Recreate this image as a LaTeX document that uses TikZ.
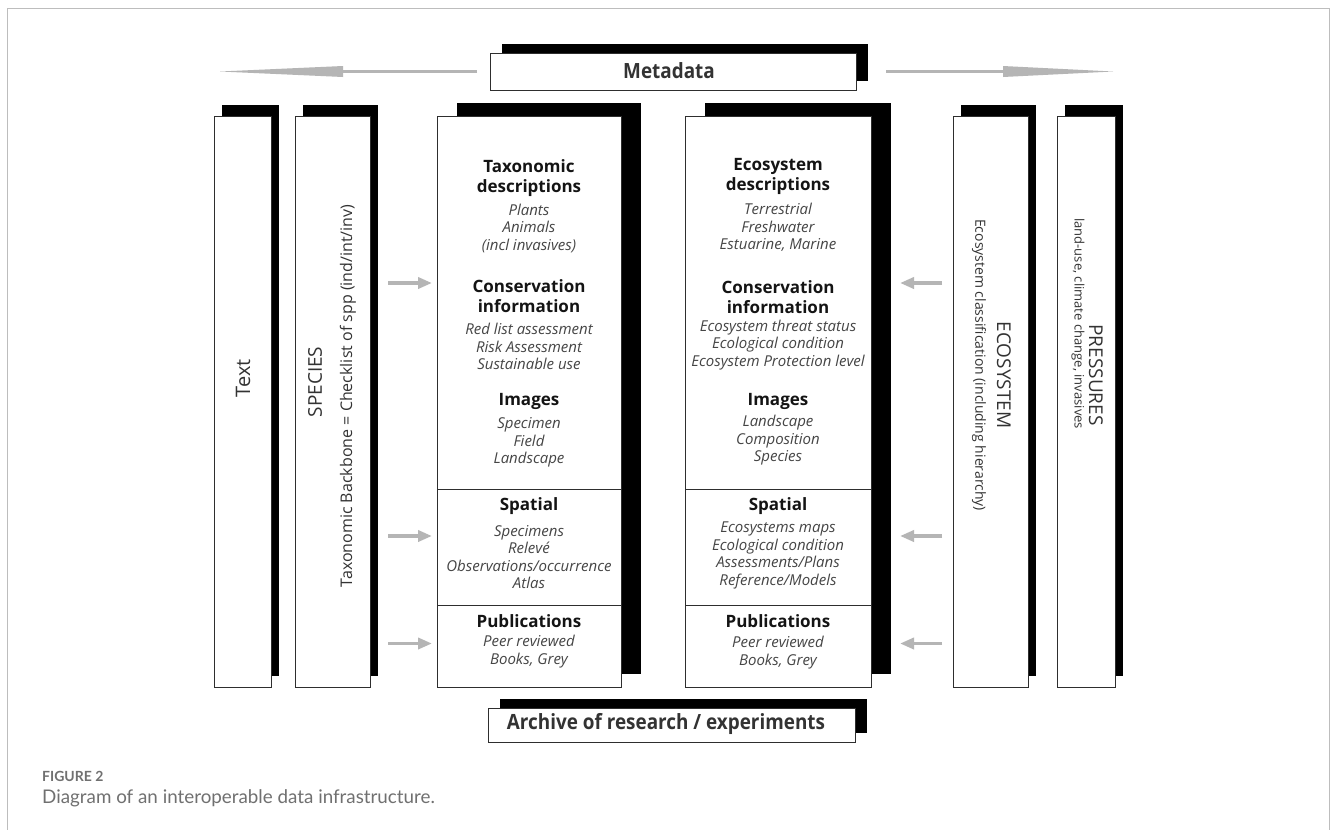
\documentclass[tikz,border=0pt]{standalone}
\usepackage{fontspec}
\setmainfont{Open Sans}
\newfontfamily\capfont{Lato}
\usetikzlibrary{shadows,calc,arrows.meta}
\definecolor{boxline}{HTML}{2E2E2E}
\definecolor{itemgrey}{HTML}{454545}
\definecolor{headblack}{HTML}{141414}
\definecolor{vgrey}{HTML}{333333}
\definecolor{arrowgrey}{HTML}{B5B5B5}
\definecolor{framegrey}{HTML}{BDBDBD}
\definecolor{capgrey}{HTML}{707070}
\begin{document}
\begin{tikzpicture}[x=1pt,y=-1pt,
  wbox/.style={draw=boxline, line width=0.9pt, fill=white, inner sep=0pt, outer sep=0pt},
  shadowN/.style={drop shadow={shadow xshift=8pt, shadow yshift=11pt, fill=black, opacity=1}},
  shadowW/.style={drop shadow={shadow xshift=20pt, shadow yshift=13pt, fill=black, opacity=1}},
  shadowH/.style={drop shadow={shadow xshift=12pt, shadow yshift=9pt, fill=black, opacity=1}},
  head/.style={font=\bfseries\fontsize{17}{20}\selectfont, text=headblack, align=center, inner sep=0pt},
  items/.style={font=\itshape\fontsize{15}{17.5}\selectfont, text=itemgrey, align=center, inner sep=0pt},
  vtitle/.style={font=\fontsize{19}{22}\selectfont, text=vgrey, inner sep=0pt},
  vsub/.style={text=vgrey, inner sep=0pt},
  bigtitle/.style={font=\bfseries\fontsize{21}{24}\selectfont, text=vgrey, inner sep=0pt},
  divline/.style={draw=boxline, line width=0.9pt},
  sarrow/.style={draw=arrowgrey, line width=3.5pt, -{Triangle[length=14pt,width=11pt]}},
  bshaft/.style={draw=arrowgrey, line width=3.3pt},
  bhead/.style={fill=arrowgrey}
]
\useasboundingbox (0,0) rectangle (1331,830);
\fill[white] (0,0) rectangle (1331,830);

% outer frame
\draw[framegrey, line width=0.8pt] (7,835) -- (7,8.5) -- (1329,8.5) -- (1329,835);

% header / footer boxes
\node[wbox, shadowH, minimum width=366, minimum height=37] (meta) at (673,71.5) {};
\node[bigtitle] (metat) at (669,71) {\scalebox{0.9}[1]{Metadata}};
\node[wbox, shadowH, minimum width=367, minimum height=34] (arch) at (671.5,725) {};
\node[bigtitle] (archt) at (666,724) {\scalebox{0.9}[1]{Archive of research / experiments}};

% big arrows (shaft from the Metadata box, long tapering head)
\coordinate (lbase) at (343,71.5);
\coordinate (lend) at (220,71.5);
\coordinate (rbase) at (1003,71.5);
\coordinate (rend) at (1113,71.5);
\draw[bshaft, shorten <=13pt] (meta.west) -- (lbase);
\draw[bshaft, shorten <=30pt] (meta.east) -- (rbase);
\fill[bhead] ($(lbase)+(0,-5.5)$) -- (lend) -- ($(lbase)+(0,5.5)$) -- cycle;
\fill[bhead] ($(rbase)+(0,-5.5)$) -- (rend) -- ($(rbase)+(0,5.5)$) -- cycle;

% columns
\node[wbox, shadowN, minimum width=57, minimum height=571] (textbox) at (242.5,401.5) {};
\node[wbox, shadowN, minimum width=75, minimum height=571] (species) at (332.5,401.5) {};
\node[wbox, shadowW, minimum width=184, minimum height=571] (lcol) at (529,401.5) {};
\node[wbox, shadowW, minimum width=186, minimum height=571] (rcol) at (778,401.5) {};
\node[wbox, shadowN, minimum width=75, minimum height=571] (ecobox) at (990.5,401.5) {};
\node[wbox, shadowN, minimum width=58, minimum height=571] (presbox) at (1086,401.5) {};

% dividers
\coordinate (d1) at (0,489);
\coordinate (d2) at (0,605);
\draw[divline] (lcol.west |- d1) -- (lcol.east |- d1);
\draw[divline] (lcol.west |- d2) -- (lcol.east |- d2);
\draw[divline] (rcol.west |- d1) -- (rcol.east |- d1);
\draw[divline] (rcol.west |- d2) -- (rcol.east |- d2);

% vertical labels
\node[vtitle, rotate=90, font=\fontsize{20}{24}\selectfont] (textlab) at (243,378) {Text};
\node[vtitle, rotate=90] (spt) at (315,382) {SPECIES};
\node[vsub, rotate=90, font=\fontsize{16}{19}\selectfont] (sps) at (348,396) {Taxonomic Backbone = Checklist of spp (ind/int/inv)};
\node[vtitle, rotate=-90] (ecot) at (1004,375) {ECOSYSTEM};
\node[vsub, rotate=-90, anchor=west, font=\fontsize{14}{17}\selectfont] (ecos) at (979,219) {Ecosystem classification (including hierarchy)};
\node[vtitle, rotate=-90] (prest) at (1096,375) {PRESSURES};
\node[vsub, rotate=-90, anchor=west, font=\fontsize{13}{16}\selectfont] (press) at (1078,218) {land-use, climate change, invasives};

% left column text
\node[head] (lh1) at (529,178) {Taxonomic\\descriptions};
\node[items] (li1) at (529,228) {Plants\\Animals\\(incl invasives)};
\node[head] (lh2) at (529,296.5) {Conservation\\information};
\node[items] (li2) at (529,346.5) {Red list assessment\\Risk Assessment\\Sustainable use};
\node[head] (lh3) at (529,401) {Images};
\node[items] (li3) at (529,442.5) {Specimen\\Field\\Landscape};
\node[head] (lh4) at (529,506) {Spatial};
\node[items] (li4) at (529,557) {Specimens\\Relevé\\Observations/occurrence\\Atlas};
\node[head] (lh5) at (529,621) {Publications};
\node[items] (li5) at (529,651.5) {Peer reviewed\\Books, Grey};

% right column text
\node[head] (rh1) at (778,176) {Ecosystem\\descriptions};
\node[items] (ri1) at (778,227.5) {Terrestrial\\Freshwater\\Estuarine, Marine};
\node[head] (rh2) at (778,297) {Conservation\\information};
\node[items] (ri2) at (778,345) {Ecosystem threat status\\Ecological condition\\Ecosystem Protection level};
\node[head] (rh3) at (778,401) {Images};
\node[items] (ri3) at (778,440.5) {Landscape\\Composition\\Species};
\node[head] (rh4) at (778,506) {Spatial};
\node[items] (ri4) at (778,555.5) {Ecosystems maps\\Ecological condition\\Assessments/Plans\\Reference/Models};
\node[head] (rh5) at (778,621) {Publications};
\node[items] (ri5) at (778,652.5) {Peer reviewed\\Books, Grey};

% small arrows
\coordinate (a1) at (0,283);
\coordinate (a2) at (0,536);
\coordinate (a3) at (0,643.5);
\foreach \a in {a1,a2,a3}{
  \draw[sarrow, shorten <=18pt, shorten >=5pt] (species.east |- \a) -- (lcol.west |- \a);
  \draw[sarrow, shorten <=11pt, shorten >=29pt] (ecobox.west |- \a) -- (rcol.east |- \a);
}

% caption
\node[anchor=west, inner sep=0pt, font=\capfont\bfseries\fontsize{14}{16}\selectfont, text=capgrey] (figlab) at (42,776) {FIGURE 2};
\node[anchor=west, inner sep=0pt, font=\capfont\fontsize{18.8}{22}\selectfont, text=capgrey] (figcap) at (42,798) {Diagram of an interoperable data infrastructure.};
\end{tikzpicture}
\end{document}
